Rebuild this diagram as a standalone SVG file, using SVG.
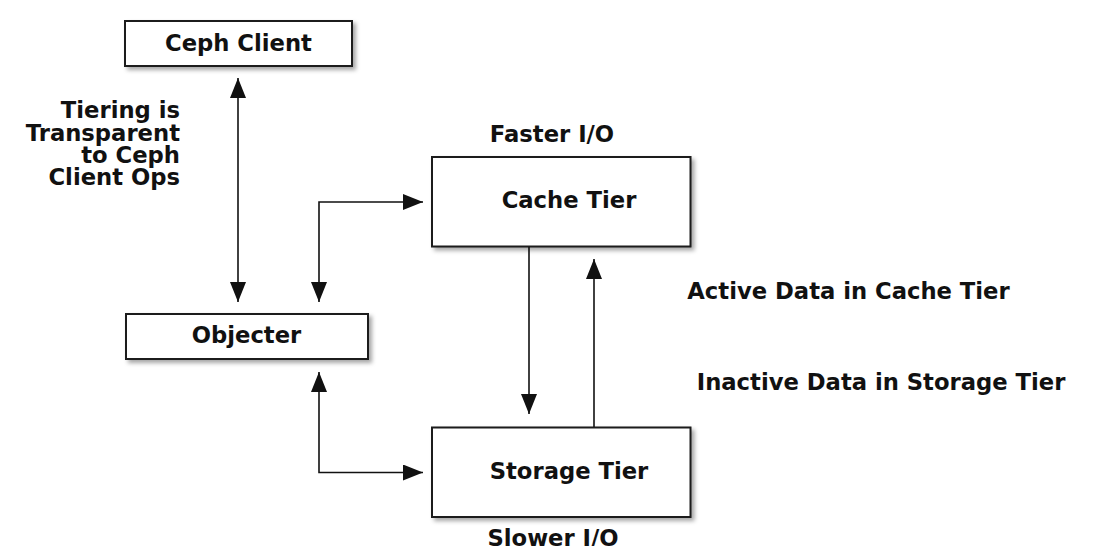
<svg xmlns="http://www.w3.org/2000/svg" width="1102" height="546" viewBox="0 0 1102 546">
<style>
  .box { fill: #ffffff; stroke: #1a1a1a; stroke-width: 2; filter: url(#shadow); }
  .t { font-family: "DejaVu Sans", "Liberation Sans", sans-serif; font-weight: bold; font-size: 22.7px; fill: #111111; }
  .c { fill: none; stroke: #111111; stroke-width: 1.6; marker-end: url(#arrow); }
  .both { marker-start: url(#arrow); }
</style>
<defs>
  <filter id="shadow" x="-10%" y="-10%" width="130%" height="140%">
    <feDropShadow dx="3" dy="3" stdDeviation="2" flood-color="#000000" flood-opacity="0.35"/>
  </filter>
  <marker id="arrow" markerUnits="userSpaceOnUse" markerWidth="20" markerHeight="16" refX="20" refY="8" orient="auto-start-reverse">
    <path d="M0,0 L20,8 L0,16 z" fill="#111111"/>
  </marker>
</defs>
<rect width="1102" height="546" fill="#ffffff"/>

<g id="connectors">
  <path class="c both" d="M238,78 L238,302"/>
  <path class="c both" d="M319,302 L319,202 L423,202"/>
  <path class="c both" d="M319,372 L319,472.5 L423,472.5"/>
  <path class="c" d="M529,246 L529,414"/>
  <path class="c" d="M594,427 L594,259"/>
</g>

<g id="ceph-client">
  <rect class="box" x="125" y="21" width="227" height="45"/>
  <text class="t" x="238.5" y="50.5" text-anchor="middle">Ceph Client</text>
</g>

<g id="tiering-note">
  <text class="t" x="180" y="118.3" text-anchor="end">Tiering is</text>
  <text class="t" x="180" y="140.6" text-anchor="end">Transparent</text>
  <text class="t" x="180" y="162.9" text-anchor="end">to Ceph</text>
  <text class="t" x="180" y="185.2" text-anchor="end">Client Ops</text>
</g>

<g id="objecter">
  <rect class="box" x="126" y="314" width="242" height="45"/>
  <text class="t" x="246.5" y="343.3" text-anchor="middle">Objecter</text>
</g>

<g id="cache-tier">
  <text class="t" x="552" y="142" text-anchor="middle">Faster I/O</text>
  <rect class="box" x="432" y="157" width="258.5" height="89.5"/>
  <text class="t" x="569" y="208.3" text-anchor="middle">Cache Tier</text>
</g>

<g id="storage-tier">
  <rect class="box" x="432" y="427.5" width="258.5" height="89.5"/>
  <text class="t" x="569" y="479" text-anchor="middle">Storage Tier</text>
  <text class="t" x="553" y="546" text-anchor="middle">Slower I/O</text>
</g>

<g id="labels">
  <text class="t" x="687.3" y="299.3">Active Data in Cache Tier</text>
  <text class="t" x="696.7" y="390">Inactive Data in Storage Tier</text>
</g>
</svg>
